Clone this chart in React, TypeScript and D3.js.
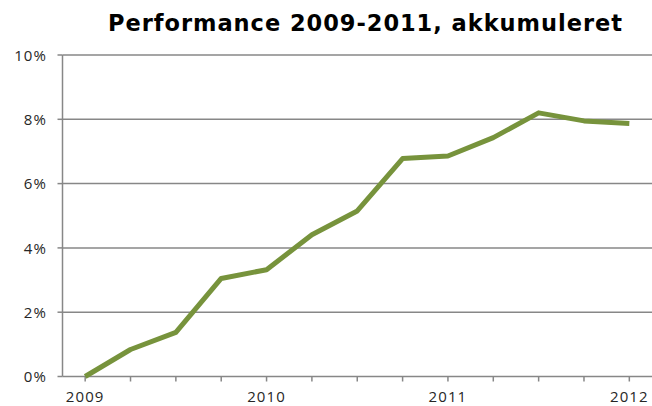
import React from "react";
import * as d3 from "d3";

const periods = ["2009Q1","2009Q2","2009Q3","2009Q4","2010Q1","2010Q2","2010Q3","2010Q4","2011Q1","2011Q2","2011Q3","2011Q4","2012Q1"];
const values = [0, 0.84, 1.37, 3.05, 3.32, 4.41, 5.15, 6.78, 6.86, 7.43, 8.2, 7.95, 7.87];
const yTicks = [0, 2, 4, 6, 8, 10];
const xLabels: Record<string, string> = { "2009Q1": "2009", "2010Q1": "2010", "2011Q1": "2011", "2012Q1": "2012" };
const title = "Performance 2009-2011, akkumuleret";

export default function App() {
  const W = 652, H = 406;
  const left = 62.5, right = 652, top = 55, bottom = 376.5;
  const x = d3.scalePoint<string>().domain(periods).range([left, right]).padding(0.5);
  const y = d3.scaleLinear().domain([0, 10]).range([bottom, top]);
  const line = d3.line<number>().x((_, i) => x(periods[i])!).y((d) => y(d));
  const grid = "#878787";
  const labelFont = "'Open Sans', 'Noto Sans', sans-serif";
  return (
    <svg width={W} height={H} style={{ position: "absolute", left: 0, top: 0, background: "#fff" }}>
      <rect x={0} y={0} width={W} height={H} fill="#fff" />
      <text x={108} y={31} textLength={514} lengthAdjust="spacing" fontFamily="'DejaVu Sans', Verdana, sans-serif" fontWeight="bold" fontSize={22.5} fill="#000">{title}</text>
      {yTicks.map((t) => (
        <g key={t}>
          {t > 0 && <line x1={left} x2={right} y1={y(t)} y2={y(t)} stroke={grid} strokeWidth={1.5} />}
          <line x1={left - 5} x2={left} y1={y(t)} y2={y(t)} stroke={grid} strokeWidth={1.5} />
          <text x={47} y={y(t)} dy="0.38em" textAnchor="end" fontFamily={labelFont} fontSize={15} letterSpacing={1.1} fill="#262626">{t}%</text>
        </g>
      ))}
      <line x1={left} x2={left} y1={top} y2={bottom} stroke={grid} strokeWidth={1.5} />
      <line x1={left} x2={right} y1={bottom} y2={bottom} stroke={grid} strokeWidth={1.5} />
      {periods.map((p) => (
        <g key={p}>
          <line x1={x(p)!} x2={x(p)!} y1={bottom} y2={bottom + 5} stroke={grid} strokeWidth={1.5} />
          {xLabels[p] && (
            <text x={x(p)!} y={402} textAnchor="middle" fontFamily={labelFont} fontSize={15} letterSpacing={1.1} fill="#262626">{xLabels[p]}</text>
          )}
        </g>
      ))}
      <path d={line(values)!} fill="none" stroke="#77933C" strokeWidth={5} strokeLinejoin="round" strokeLinecap="butt" />
    </svg>
  );
}
